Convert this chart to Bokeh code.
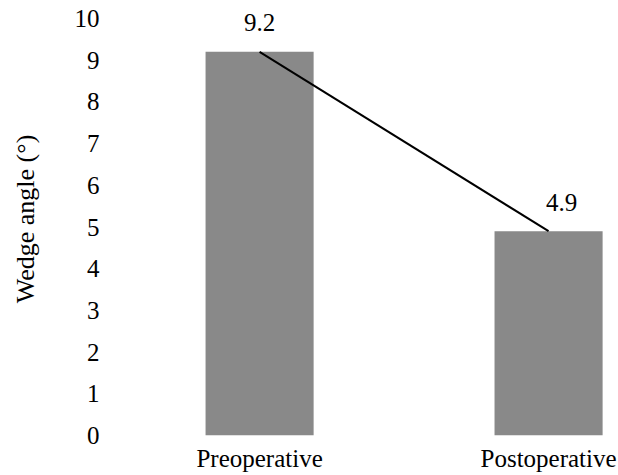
from bokeh.plotting import figure
from bokeh.models import ColumnDataSource, Range1d, FixedTicker
from bokeh.embed import file_html
from bokeh.resources import INLINE

categories = ["Preoperative", "Postoperative"]
wedge_angle = [9.2, 4.9]
value_labels = ["9.2", "4.9"]
y_ticks = [0, 1, 2, 3, 4, 5, 6, 7, 8, 9, 10]

FONT = "Liberation Serif"
idx = list(range(len(categories)))

src = ColumnDataSource(dict(
    x=idx,
    y=wedge_angle,
    label=value_labels,
    dx=[0, 13],
))

p = figure(
    width=618, height=475,
    output_backend="svg", toolbar_location=None,
    x_range=Range1d(-0.509, 1.242),
    y_range=Range1d(0, 10.384),
    min_border_left=112, min_border_right=0,
    min_border_top=2, min_border_bottom=40,
)
p.outline_line_color = None
p.grid.grid_line_color = None
p.background_fill_color = "white"
p.border_fill_color = "white"

p.vbar(x="x", top="y", bottom=0, width=0.374, source=src,
       fill_color="#898989", line_color=None)
p.line(x="x", y="y", source=src, line_color="black", line_width=2)
p.text(x="x", y="y", text="label", source=src, x_offset="dx", y_offset=-29,
       text_align="center", text_baseline="middle",
       text_font={"value": FONT}, text_font_size="25px", text_color="black")

p.xaxis.ticker = FixedTicker(ticks=idx)
p.xaxis.major_label_overrides = {i: c for i, c in zip(idx, categories)}
p.yaxis.ticker = FixedTicker(ticks=y_ticks)

for ax in (p.xaxis, p.yaxis):
    ax.axis_line_color = None
    ax.major_tick_line_color = None
    ax.minor_tick_line_color = None
    ax.major_label_text_font = FONT
    ax.major_label_text_font_size = "25px"
    ax.major_label_text_color = "black"

p.xaxis.major_label_standoff = 3
p.yaxis.major_label_standoff = 7
p.yaxis.axis_label = "Wedge angle (°)"
p.yaxis.axis_label_text_font = FONT
p.yaxis.axis_label_text_font_size = "26px"
p.yaxis.axis_label_text_font_style = "normal"
p.yaxis.axis_label_text_color = "black"
p.yaxis.axis_label_standoff = 32

open("out.html", "w").write(file_html(p, INLINE))
